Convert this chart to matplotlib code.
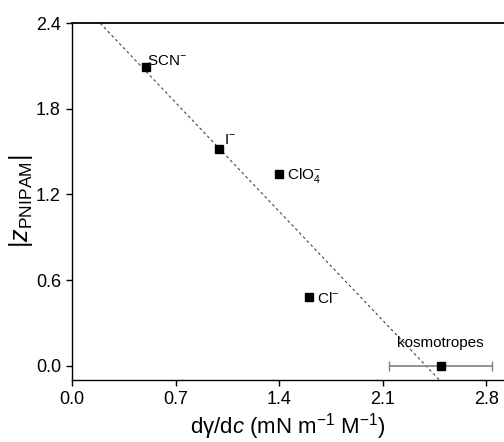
import matplotlib
matplotlib.use("Agg")
import matplotlib.pyplot as plt
import numpy as np

plt.rcParams['font.family'] = ['Liberation Sans', 'DejaVu Sans']
plt.rcParams['mathtext.fontset'] = 'custom'
plt.rcParams['mathtext.rm'] = 'Liberation Sans'
plt.rcParams['mathtext.it'] = 'Liberation Sans:italic'
plt.rcParams['mathtext.default'] = 'rm'

# Data
labels = ["SCN$^{-}$", "I$^{-}$", "ClO$_4^{-}$", "Cl$^{-}$", "kosmotropes"]
x_vals = [0.50, 0.995, 1.40, 1.60, 2.49]
y_vals = [2.09, 1.515, 1.345, 0.48, 0.0]
x_err = [0.0, 0.0, 0.0, 0.0, 0.35]
label_offsets = [(1, 4.5), (3.5, 7), (5.5, -1), (6, -0.7), (0, 16)]
label_ha = ["left", "left", "left", "left", "center"]

fit_intercept = 2.606
fit_slope = -1.09

xticks = [0.0, 0.7, 1.4, 2.1, 2.8]
yticks = [0.0, 0.6, 1.2, 1.8, 2.4]

fig = plt.figure(figsize=(5.04, 4.42), dpi=100)
ax = fig.add_axes([72/504, 1-380/442, 1-72/504, (380-23)/442])

xl = np.linspace(-0.5, 3.5, 200)
ax.plot(xl, fit_intercept + fit_slope*xl, ls=(0, (2.5, 2.5)), color='#444444', lw=0.8)

# error bar for kosmotropes
ax.errorbar(x_vals[4], y_vals[4], xerr=x_err[4], fmt='none', ecolor='#808080',
            elinewidth=1.2, capsize=3.5, capthick=1.0)
ax.plot(x_vals, y_vals, 's', color='black', markersize=6, zorder=5)

for xv, yv, lab, off, ha in zip(x_vals, y_vals, labels, label_offsets, label_ha):
    ax.annotate(lab, (xv, yv), xytext=off, textcoords='offset points',
                ha=ha, va='center', fontsize=11)

ax.set_xlim(0, (504-72)/148.0)
ax.set_ylim(-0.1, 2.4)
ax.set_xticks(xticks)
ax.set_yticks(yticks)
ax.set_xticklabels([f"{t:.1f}" for t in xticks])
ax.set_yticklabels([f"{t:.1f}" for t in yticks])
ax.tick_params(direction='out', length=4, width=1, labelsize=13, pad=4)
ax.spines['right'].set_visible(False)
for s in ['left', 'bottom', 'top']:
    ax.spines[s].set_linewidth(1.0)
ax.spines['top'].set_linewidth(1.3)

ax.set_xlabel(r"d$\gamma$/d$\it{c}$ (mN m$^{-1}$ M$^{-1}$)", fontsize=16, labelpad=2)
ax.set_ylabel(r"|$\it{z}$$_{\rm PNIPAM}$|", fontsize=18, labelpad=0.5)

fig.savefig("out.png", dpi=100)
